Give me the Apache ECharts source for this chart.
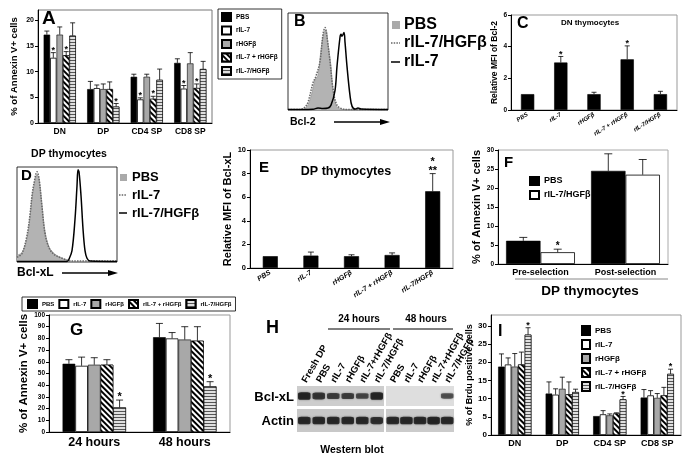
<!DOCTYPE html>
<html><head><meta charset="utf-8">
<script src="https://cdn.jsdelivr.net/npm/echarts@6/dist/echarts.min.js"></script>
<style>html,body{margin:0;padding:0;background:#fff}#c{width:683px;height:463px}</style>
</head><body><div id="c"></div>
<script>
const FONT = '"Liberation Sans", Arial, sans-serif';
// ---------- data ----------
const treatments = ['PBS', 'rIL-7', 'rHGFβ', 'rIL-7 + rHGFβ', 'rIL-7/HGFβ'];
const subsets = ['DN', 'DP', 'CD4 SP', 'CD8 SP'];
// Panel A: % Annexin V+ cells per subset
const aPBS = [17.2, 6.6, 9.0, 11.7];
const aIL7 = [12.7, 6.8, 4.6, 6.7];
const aHGF = [17.2, 6.6, 9.0, 11.6];
const aMix = [13.2, 6.6, 4.7, 6.8];
const aFus = [17.0, 3.2, 8.4, 10.5];
const aErrPBS = [0.7, 1.5, 0.5, 0.8];
const aErrIL7 = [1.0, 0.6, 0.3, 0.6];
const aErrHGF = [1.5, 1.0, 0.5, 2.1];
const aErrMix = [0.7, 1.4, 0.5, 0.8];
const aErrFus = [2.5, 0.6, 2.1, 1.5];
const aStarIL7 = [1, 0, 1, 1];
const aStarMix = [1, 0, 1, 1];
const aStarFus = [0, 1, 0, 0];
// Panel B: Bcl-2 histograms [channel, % of max]
const bPBS = [[0,0.5],[12,0.5],[18,2],[23,14],[27,31],[30,36],[33,62],[36,80],[38,82],[40,68],[43,45],[45,20],[48,5],[52,1],[58,0.5],[100,0.5]];
const bFus = [[0,0.5],[12,0.5],[17,3],[20,8],[25,28],[28,35],[32,50],[35,78],[37,85],[39,75],[42,50],[45,22],[49,5],[55,1],[62,0.5],[100,0.5]];
const bIL7 = [[0,0.5],[25,0.8],[30,2],[35,1.5],[40,2],[43,5],[47,20],[49,45],[52,75],[53,78],[54,76],[56,80],[57,70],[59,45],[62,15],[64,4],[67,1],[70,2],[73,1],[100,0.5]];
// Panel C: relative MFI of Bcl-2, DN
const cMFI = [1.0, 3.0, 1.0, 3.2, 1.0];
const cErr = [0, 0.38, 0.12, 0.85, 0.18];
const cStar = [0, 1, 0, 1, 0];
// Panel D: Bcl-xL histograms
const dPBS = [[0,7],[5,10],[10,25],[13,47],[15,67],[17,80],[20,92],[22,88],[25,60],[28,32],[32,16],[37,9],[43,5],[50,2],[55,0.5],[100,0.5]];
const dIL7 = [[0,5],[5,9],[10,28],[13,50],[15,70],[17,83],[20,95],[22,88],[25,58],[28,30],[32,15],[37,8],[45,4],[55,1],[100,1]];
const dFus = [[0,0.5],[50,0.5],[52,3],[55,12],[58,45],[60,80],[61,97],[62,95],[64,70],[66,35],[68,12],[70,4],[73,1],[100,0.5]];
// Panel E: relative MFI of Bcl-xL, DP
const eMFI = [1.0, 1.05, 1.0, 1.1, 6.5];
const eErr = [0, 0.3, 0.12, 0.18, 1.5];
const eStar = [0, 0, 0, 0, 2];
// Panel F
const fCats = ['Pre-selection', 'Post-selection'];
const fPBS = [6.1, 24.5];
const fFus = [3.1, 23.5];
const fErrPBS = [0.9, 4.5];
const fErrFus = [0.8, 4.0];
const fStarPBS = [0, 0];
const fStarFus = [1, 0];
// Panel G
const gCats = ['24 hours', '48 hours'];
const gPBS = [58.3, 81];
const gIL7 = [56.6, 80];
const gHGF = [57.5, 79];
const gMix = [57.5, 78];
const gFus = [21, 39];
const gErrPBS = [3.5, 11.8];
const gErrIL7 = [7.4, 5];
const gErrHGF = [6, 11];
const gErrMix = [4.3, 12];
const gErrFus = [6.3, 4];
const gStarFus = [1, 1];
// Panel H: western blot band intensities (0..1)
const hLanes24 = ['Fresh DP', 'PBS', 'rIL-7', 'rHGFβ', 'rIL-7+rHGFβ', 'rIL-7/HGFβ'];
const hLanes48 = ['PBS', 'rIL-7', 'rHGFβ', 'rIL-7+rHGFβ', 'rIL-7/HGFβ'];
const hBcl24 = [0.95, 0.8, 0.7, 0.7, 0.6, 0.95];
const hBcl48 = [0, 0, 0, 0, 0.55];
const hAct24 = [0.9, 0.9, 0.9, 0.9, 0.9, 0.85];
const hAct48 = [0.9, 0.9, 0.9, 0.95, 0.9];
// Panel I: % BrdU positive cells
const iPBS = [18.8, 11.4, 5.2, 10.3];
const iIL7 = [19.4, 11.1, 5.7, 10.9];
const iHGF = [18.8, 12.7, 5.4, 10.2];
const iMix = [19.4, 11.2, 5.9, 10.9];
const iFus = [27.6, 11.8, 9.8, 16.8];
const iErrPBS = [3.5, 3.2, 0, 2.2];
const iErrIL7 = [1.8, 1.6, 1.0, 1.3];
const iErrHGF = [3.6, 3.2, 0.4, 1.2];
const iErrMix = [3.4, 3.4, 0.2, 2.2];
const iErrFus = [1.9, 0.8, 0.8, 1.3];
const iStarFus = [1, 0, 1, 1];
const zeros4 = [0, 0, 0, 0];
const zeros2 = [0, 0];

// ---------- styles ----------
const S = [
  {color:'#000', borderColor:'#000', borderWidth:0.6},
  {color:'#fff', borderColor:'#000', borderWidth:0.8},
  {color:'#a8a8a8', borderColor:'#000', borderWidth:0.6},
  {color:'#fff', borderColor:'#000', borderWidth:0.6, decal:{symbol:'rect', symbolSize:1, dashArrayX:[1,0], dashArrayY:[1.4,1.8], rotation:Math.PI/4, color:'#000', backgroundColor:'#fff'}},
  {color:'#d8d8d8', borderColor:'#000', borderWidth:0.6, decal:{symbol:'rect', symbolSize:1, dashArrayX:[1,0], dashArrayY:[1,1.3], rotation:0, color:'#555', backgroundColor:'#e0e0e0'}}
];
const bold = (sz, extra) => Object.assign({fontSize:sz, fontWeight:'bold', color:'#000', fontFamily:FONT}, extra||{});

function barGroup(gi, names, vals, styles, gap) {
  return names.map((nm, i) => ({type:'bar', name:nm, xAxisIndex:gi, yAxisIndex:gi, data:vals[i],
    barGap:'0%', barCategoryGap:gap + '%', itemStyle:styles[i]}));
}
function errBars(gi, vals, errs, stars, gap, capW, starSize) {
  const n = vals.length, data = [];
  vals.forEach((arr, i) => arr.forEach((v, j) => data.push([j, v, errs[i][j], stars[i][j], i])));
  return {type:'custom', xAxisIndex:gi, yAxisIndex:gi, z:10, silent:true, data,
    renderItem(params, api) {
      const j = api.value(0), v = api.value(1), e = api.value(2), s = api.value(3), i = api.value(4);
      const catW = api.size([1, 0])[0], gw = catW * (1 - gap / 100), bw = gw / n;
      const base = api.coord([j, v]);
      const x = base[0] - gw / 2 + (i + 0.5) * bw;
      const top = api.coord([j, v + e])[1];
      const ch = [];
      if (e > 0) {
        ch.push({type:'line', shape:{x1:x, y1:base[1], x2:x, y2:top}, style:{stroke:'#000', lineWidth:0.8}});
        ch.push({type:'line', shape:{x1:x - capW, y1:top, x2:x + capW, y2:top}, style:{stroke:'#000', lineWidth:0.8}});
      }
      if (s) {
        ch.push({type:'text', style:{text: s === 2 ? '*\n**' : '*', x:x, y:top + 1, fill:'#000',
          font:'bold ' + starSize + 'px ' + FONT, align:'center', textAlign:'center', verticalAlign:'bottom', textVerticalAlign:'bottom', lineHeight:starSize * 0.75}});
      }
      return {type:'group', children:ch};
    }};
}
function catX(gi, data, lblSize, extra) {
  return Object.assign({gridIndex:gi, type:'category', data,
    axisLine:{lineStyle:{color:'#000', width:1}}, axisTick:{length:3, lineStyle:{color:'#000'}},
    axisLabel:bold(lblSize, {margin:4, interval:0})}, extra || {});
}
function valY(gi, min, max, interval, lblSize, name, nameSize, nameGap) {
  return {gridIndex:gi, type:'value', min, max, interval,
    axisLine:{show:true, lineStyle:{color:'#000', width:1}}, axisTick:{show:true, length:3, lineStyle:{color:'#000'}},
    splitLine:{show:false}, axisLabel:bold(lblSize, {margin:4, showMaxLabel: (max % interval === 0)}),
    name, nameLocation:'middle', nameGap, nameTextStyle:bold(nameSize)};
}
const hiddenV = (gi, min, max) => ({gridIndex:gi, type:'value', min, max, show:false});

// ---------- grids ----------
const grids = [
  {left:38, top:10, width:174, height:113, show:true, borderColor:'#777', borderWidth:1},    //0 A
  {left:288, top:13, width:100, height:97, show:true, borderColor:'#000', borderWidth:0.8},  //1 B
  {left:511, top:15, width:166, height:95, show:true, borderColor:'#999', borderWidth:1},    //2 C
  {left:17, top:167, width:100, height:95, show:true, borderColor:'#000', borderWidth:0.8},  //3 D
  {left:250, top:150, width:203, height:118, show:true, borderColor:'#999', borderWidth:1},  //4 E
  {left:498, top:150, width:170, height:114, show:true, borderColor:'#aaa', borderWidth:1},  //5 F
  {left:49, top:315, width:181, height:117, show:true, borderColor:'#999', borderWidth:1},   //6 G
  {left:297, top:386, width:87, height:20, show:true, backgroundColor:'#cdcdcd', borderWidth:0}, //7 H bcl 24
  {left:386, top:386, width:68, height:20, show:true, backgroundColor:'#dedede', borderWidth:0}, //8 H bcl 48
  {left:297, top:409, width:87, height:23, show:true, backgroundColor:'#c8c8c8', borderWidth:0}, //9 H actin 24
  {left:386, top:409, width:68, height:23, show:true, backgroundColor:'#cbcbcb', borderWidth:0}, //10 H actin 48
  {left:491, top:315, width:190, height:120, show:true, borderColor:'#999', borderWidth:1}   //11 I
];

const laneTop = (gi, data) => ({gridIndex:gi, type:'category', data, position:'top',
  axisLine:{show:false}, axisTick:{show:false}, axisLabel:bold(9.5, {rotate:60, margin:4, interval:0})});
const laneHidden = (gi, data) => ({gridIndex:gi, type:'category', data, show:false});

const xAxes = [
  catX(0, subsets, 8.5),
  {gridIndex:1, type:'value', min:0, max:100, show:false},
  catX(2, treatments, 6, {axisLabel:bold(6, {rotate:32, margin:4, interval:0, fontStyle:'italic'})}),
  {gridIndex:3, type:'value', min:0, max:100, show:false},
  catX(4, treatments, 7, {axisLabel:bold(7, {rotate:32, margin:4, interval:0, fontStyle:'italic'})}),
  catX(5, fCats, 9),
  catX(6, gCats, 12.5),
  laneTop(7, hLanes24), laneTop(8, hLanes48), laneHidden(9, hLanes24), laneHidden(10, hLanes48),
  catX(11, subsets, 9)
];
const yAxes = [
  valY(0, 0, 22, 5, 7, '% of Annexin V+ cells', 9.5, 19),
  hiddenV(1, 0, 100),
  valY(2, 0, 6, 2, 6.5, 'Relative MFI of Bcl-2', 8.5, 10),
  hiddenV(3, 0, 100),
  valY(4, 0, 10, 2, 7.5, 'Relative MFI of Bcl-xL', 11, 15),
  valY(5, 0, 30, 5, 6.5, '% of Annexin V+ cells', 11, 11),
  valY(6, 0, 100, 10, 6.5, '% of Annexin V+ cells', 11.5, 17),
  hiddenV(7, 0, 1), hiddenV(8, 0, 1), hiddenV(9, 0, 1), hiddenV(10, 0, 1),
  valY(11, 0, 33, 5, 8, '% of Brdu positive cells', 9, 17)
];

// ---------- series ----------
const series = [];
series.push(...barGroup(0, treatments, [aPBS, aIL7, aHGF, aMix, aFus], S, 26));
series.push(errBars(0, [aPBS, aIL7, aHGF, aMix, aFus], [aErrPBS, aErrIL7, aErrHGF, aErrMix, aErrFus],
  [zeros4, aStarIL7, zeros4, aStarMix, aStarFus], 26, 2.5, 9));
// B histograms
const histLine = (gi, name, d, ls, area) => ({type:'line', name, xAxisIndex:gi, yAxisIndex:gi, data:d, smooth:0.35,
  symbol:'none', lineStyle:ls, areaStyle:area, z: area ? 2 : 3});
series.push(histLine(1, 'B PBS', bPBS, {color:'#999', width:0.8}, {color:'#b3b3b3', opacity:1}));
series.push(histLine(1, 'B rIL-7/HGFβ', bFus, {color:'#666', width:1.5, type:[1.5, 1.2]}));
series.push(histLine(1, 'B rIL-7', bIL7, {color:'#000', width:1.5}));
// C
series.push({type:'bar', name:'C MFI', xAxisIndex:2, yAxisIndex:2, data:cMFI, barCategoryGap:'60%', itemStyle:S[0]});
series.push(errBars(2, [cMFI], [cErr], [cStar], 60, 2.5, 9));
// D
series.push(histLine(3, 'D PBS', dPBS, {color:'#999', width:0.8}, {color:'#b3b3b3', opacity:1}));
series.push(histLine(3, 'D rIL-7', dIL7, {color:'#666', width:1.5, type:[1.5, 1.2]}));
series.push(histLine(3, 'D rIL-7/HGFβ', dFus, {color:'#000', width:1.5}));
// E
series.push({type:'bar', name:'E MFI', xAxisIndex:4, yAxisIndex:4, data:eMFI, barCategoryGap:'63%', itemStyle:S[0]});
series.push(errBars(4, [eMFI], [eErr], [eStar], 63, 3, 11));
// F
series.push(...barGroup(5, ['PBS ', 'rIL-7/HGFβ '], [fPBS, fFus], [S[0], S[1]], 19));
series.push(errBars(5, [fPBS, fFus], [fErrPBS, fErrFus], [fStarPBS, fStarFus], 19, 4, 10));
// G
series.push(...barGroup(6, treatments, [gPBS, gIL7, gHGF, gMix, gFus], S, 30));
series.push(errBars(6, [gPBS, gIL7, gHGF, gMix, gFus], [gErrPBS, gErrIL7, gErrHGF, gErrMix, gErrFus],
  [zeros2, zeros2, zeros2, zeros2, gStarFus], 30, 3.5, 11));
// H blot bands
const bands = (gi, vals, h0, hk) => ({type:'scatter', xAxisIndex:gi, yAxisIndex:gi, silent:true,
  data: vals.map((v, k) => [k, 0.5, v]), symbol:'roundRect',
  symbolSize: (val) => [12.5, h0 + hk * val[2]],
  itemStyle:{color: (p) => p.value[2] > 0 ? 'rgba(12,12,12,' + (0.3 + 0.7 * p.value[2]) + ')' : 'rgba(0,0,0,0)',
    shadowBlur:2, shadowColor:'rgba(0,0,0,0.6)'}});
series.push(bands(7, hBcl24, 2, 6), bands(8, hBcl48, 2, 6), bands(9, hAct24, 3, 5), bands(10, hAct48, 3, 5));
// I
series.push(...barGroup(11, treatments, [iPBS, iIL7, iHGF, iMix, iFus], S, 30));
series.push(errBars(11, [iPBS, iIL7, iHGF, iMix, iFus], [iErrPBS, iErrIL7, iErrHGF, iErrMix, iErrFus],
  [zeros4, zeros4, zeros4, zeros4, iStarFus], 30, 2.5, 9));

// ---------- legends ----------
const legends = [
  {left:218, top:9, orient:'vertical', data:treatments, icon:'rect', itemWidth:9, itemHeight:8, itemGap:3.5,
   textStyle:bold(6.5), borderColor:'#000', borderWidth:0.8, padding:[3, 4, 3, 3], selectedMode:false},
  {left:524, top:171, orient:'vertical', data:['PBS ', 'rIL-7/HGFβ '], icon:'rect', itemWidth:9, itemHeight:8, itemGap:4,
   textStyle:bold(9), selectedMode:false},
  {left:22, top:297, orient:'horizontal', data:treatments, icon:'rect', itemWidth:9, itemHeight:8, itemGap:4,
   textStyle:bold(6), borderColor:'#000', borderWidth:0.8, padding:[2, 4, 2, 5], selectedMode:false},
  {left:576, top:320, orient:'vertical', data:treatments, icon:'rect', itemWidth:8, itemHeight:9, itemGap:3,
   textStyle:bold(8), selectedMode:false}
];

// ---------- decorations ----------
const T = (x, y, text, sz, align, extra) => ({type:'text', x, y, silent:true, style:Object.assign({text, fill:'#000',
  font:'bold ' + sz + 'px ' + FONT, align: align || 'left', verticalAlign:'middle'}, extra || {})});
const L = (x1, y1, x2, y2, color, w, dash) => ({type:'line', silent:true, shape:{x1, y1, x2, y2},
  style:{stroke:color || '#000', lineWidth:w || 1, lineDash:dash || null}});
const R = (x, y, w, h, fill) => ({type:'rect', silent:true, shape:{x, y, width:w, height:h}, style:{fill, stroke:null}});
const ARROW = (x1, x2, y) => [L(x1, y, x2 - 6, y, '#000', 1.5),
  {type:'polygon', silent:true, shape:{points:[[x2 - 10, y - 3], [x2, y], [x2 - 10, y + 3]]}, style:{fill:'#000'}}];

const graphics = [
  T(42, 19, 'A', 19), T(294, 22, 'B', 16), T(517, 24, 'C', 16), T(21, 176, 'D', 15),
  T(259, 168, 'E', 15), T(504, 163, 'F', 15), T(70, 330, 'G', 17), T(266, 328, 'H', 18), T(498, 332, 'I', 16),
  T(590, 23, 'DN thymocytes', 8, 'center'), T(346, 172, 'DP thymocytes', 12.5, 'center'),
  T(69, 154, 'DP thymocytes', 10.5, 'center'),
  // B legend
  R(392, 21, 8, 8, '#aaa'), T(404, 25, 'PBS', 16), L(391, 43, 400, 43, '#666', 1.5, [1.5, 1.2]),
  T(404, 43, 'rIL-7/HGFβ', 16), L(391, 62, 400, 62, '#000', 1.5), T(404, 62, 'rIL-7', 16),
  T(290, 122, 'Bcl-2', 10.5), ...ARROW(334, 390, 122),
  // D legend
  R(120, 174, 7, 7, '#aaa'), T(132, 177, 'PBS', 13), L(119, 195, 127, 195, '#666', 1.5, [1.5, 1.2]),
  T(132, 195, 'rIL-7', 13), L(119, 213, 127, 213, '#000', 1.5), T(132, 213, 'rIL-7/HGFβ', 13),
  T(17, 273, 'Bcl-xL', 12), ...ARROW(62, 118, 273),
  // F
  L(515, 279, 668, 279, '#888', 1), T(590, 291, 'DP thymocytes', 13.5, 'center'),
  // H
  T(359, 319, '24 hours', 10, 'center'), L(328, 329, 390, 329, '#000', 1),
  T(426, 319, '48 hours', 10, 'center'), L(393, 329, 453, 329, '#000', 1),
  T(294, 397, 'Bcl-xL', 13, 'right'), T(294, 421, 'Actin', 13, 'right'),
  T(352, 450, 'Western blot', 10.5, 'center')
];

const chart = echarts.init(document.getElementById('c'), null, {renderer:'canvas'});
chart.setOption({
  animation:false, backgroundColor:'#fff', textStyle:{fontFamily:FONT},
  grid:grids, xAxis:xAxes, yAxis:yAxes, series, legend:legends, graphic:graphics
});
</script></body></html>
